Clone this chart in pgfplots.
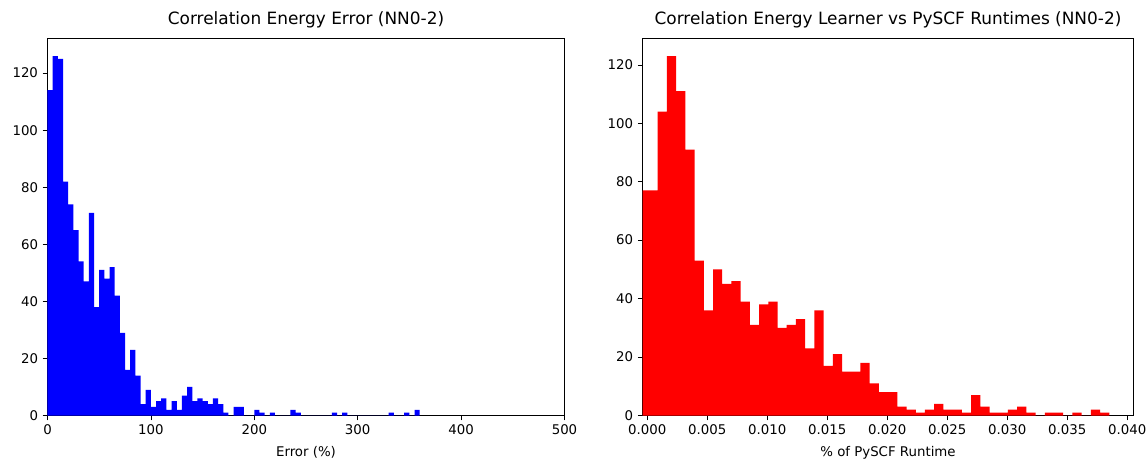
\documentclass[border=0pt]{standalone}
\usepackage{pgfplots}
\pgfplotsset{compat=1.18}
\usepackage{fontspec}
\setmainfont{DejaVu Sans}

\pgfplotstableread{
x y
0 114
5 126
10 125
15 82
20 74
25 65
30 54
35 47
40 71
45 38
50 51
55 48
60 52
65 42
70 29
75 16
80 23
85 14
90 4
95 9
100 3
105 5
110 6
115 2
120 5
125 2
130 7
135 10
140 5
145 6
150 5
155 4
160 6
165 4
170 1
175 0
180 3
185 3
190 0
195 0
200 2
205 1
210 0
215 1
220 0
225 0
230 0
235 2
240 1
245 0
250 0
255 0
260 0
265 0
270 0
275 1
280 0
285 1
290 0
295 0
300 0
305 0
310 0
315 0
320 0
325 0
330 1
335 0
340 0
345 1
350 0
355 2
360 0
}\errtable

\pgfplotstableread{
x y
-0.000660 77
0.000108 77
0.000876 104
0.001644 123
0.002412 111
0.003180 91
0.003948 53
0.004716 36
0.005484 50
0.006252 45
0.007020 46
0.007788 39
0.008556 31
0.009324 38
0.010092 39
0.010860 30
0.011628 31
0.012396 33
0.013164 23
0.013932 36
0.014700 17
0.015468 21
0.016236 15
0.017004 15
0.017772 18
0.018540 11
0.019308 8
0.020076 8
0.020844 3
0.021612 2
0.022380 1
0.023148 2
0.023916 4
0.024684 2
0.025452 2
0.026220 1
0.026988 7
0.027756 3
0.028524 1
0.029292 1
0.030060 2
0.030828 3
0.031596 1
0.032364 0
0.033132 1
0.033900 1
0.034668 0
0.035436 1
0.036204 0
0.036972 2
0.037740 1
0.038508 0
}\runtable

\pgfplotsset{
  mystyle/.style={
    scale only axis,
    height=283.1pt,
    ymin=0,
    tick pos=left,
    tick align=outside,
    major tick length=3.6pt,
    ytick={0,20,40,60,80,100,120},
    tick label style={font=\fontsize{10}{12}\selectfont},
    /pgf/number format/assume math mode=true,
    title style={font=\fontsize{12.7}{15}\selectfont, at={(0.5,1)}, anchor=base, yshift=3.9pt},
    xlabel style={font=\fontsize{10}{12}\selectfont, at={(axis description cs:0.5,0)}, anchor=base, yshift=-31pt},
    axis line style={black},
    every tick/.style={black},
  }
}

\begin{document}
\begin{tikzpicture}
\useasboundingbox (-35.625pt,-33.375pt) rectangle (825.375pt,311.625pt);
\begin{axis}[mystyle,
  at={(0pt,0pt)}, anchor=south west,
  width=387.75pt,
  xmin=0, xmax=500, ymax=132.3,
  xtick={0,100,200,300,400,500},
  title={Correlation Energy Error (NN0-2)},
  xlabel={Error (\%)},
]
\addplot[const plot mark left, fill=blue, draw=none] table[x=x,y=y] {\errtable} \closedcycle;
\end{axis}
\begin{axis}[mystyle,
  at={(446.4pt,0pt)}, anchor=south west,
  width=367.95pt,
  xmin=-0.000375, xmax=0.040508, ymax=129.15,
  xtick={0,0.005,0.01,0.015,0.02,0.025,0.03,0.035,0.04},
  scaled x ticks=false,
  xticklabel style={/pgf/number format/.cd, fixed, fixed zerofill, precision=3},
  title={Correlation Energy Learner vs PySCF Runtimes (NN0-2)},
  xlabel={\% of PySCF Runtime},
]
\addplot[const plot mark left, fill=red, draw=none] table[x=x,y=y] {\runtable} \closedcycle;
\end{axis}
\end{tikzpicture}
\end{document}
